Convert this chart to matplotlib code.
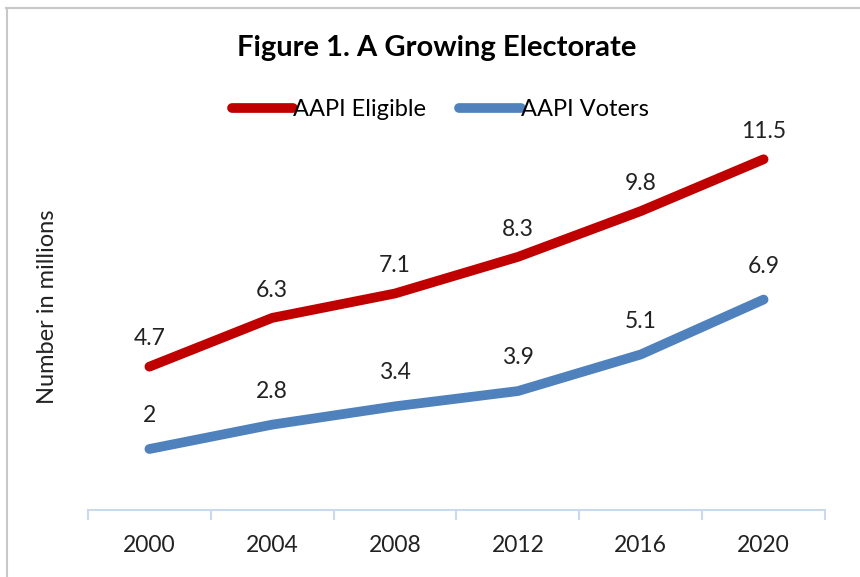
import matplotlib.pyplot as plt
from matplotlib.lines import Line2D

plt.rcParams['font.family'] = ['Lato', 'DejaVu Sans']

years = ['2000', '2004', '2008', '2012', '2016', '2020']
eligible = [4.7, 6.3, 7.1, 8.3, 9.8, 11.5]
voters = [2, 2.8, 3.4, 3.9, 5.1, 6.9]

red = '#C00000'
blue = '#4F81BD'
txt = '#222222'

fig = plt.figure(figsize=(8.6, 5.77), dpi=100)
ax = fig.add_axes([0.1023, 0.1161, 0.857, 0.74])

x = list(range(len(years)))
ax.plot(x, eligible, color=red, lw=7, solid_capstyle='round', solid_joinstyle='round', label='AAPI Eligible')
ax.plot(x, voters, color=blue, lw=7, solid_capstyle='round', solid_joinstyle='round', label='AAPI Voters')

for xi, v in zip(x, eligible):
    ax.annotate(f'{v:g}', (xi, v), xytext=(0, 20), textcoords='offset points',
                ha='center', va='center', fontsize=16.5, color=txt)
for xi, v in zip(x, voters):
    ax.annotate(f'{v:g}', (xi, v), xytext=(0, 24), textcoords='offset points',
                ha='center', va='center', fontsize=16.5, color=txt)

ax.set_xlim(-0.5, 5.5)
ax.set_ylim(0, 14)
ax.set_yticks([])
# category boundaries as tick marks, year labels in between
ax.set_xticks([i - 0.5 for i in range(len(years) + 1)])
ax.set_xticklabels([])
ax.set_xticks(x, minor=True)
ax.set_xticklabels(years, minor=True, fontsize=16.5, color=txt)
ax.tick_params(axis='x', which='major', length=7, color='#C9D9EE', width=1.5, direction='out')
ax.tick_params(axis='x', which='minor', length=0, pad=18)
for s in ['top', 'right', 'left']:
    ax.spines[s].set_visible(False)
ax.spines['bottom'].set_color('#C9D9EE')
ax.spines['bottom'].set_linewidth(1.5)

ax.set_ylabel('Number in millions', fontsize=17, color=txt)
ax.yaxis.set_label_coords(-0.041, 0.475)

fig.text(0.508, 0.917, 'Figure 1. A Growing Electorate', ha='center', va='center',
         fontsize=21, fontweight='bold', color='black')

leg = fig.legend(loc='center', bbox_to_anchor=(0.512, 0.81), ncol=2, frameon=False,
                 fontsize=17, handlelength=2.6, handletextpad=0.0, columnspacing=1.4)
for line in leg.get_lines():
    line.set_solid_capstyle('round')

# chart border: only top and left edges are visible in the crop
fig.add_artist(Line2D([0.007, 1.0], [0.987, 0.987], transform=fig.transFigure,
                      color='#C8C8C8', lw=1.5))
fig.add_artist(Line2D([0.008, 0.008], [0.0, 0.987], transform=fig.transFigure,
                      color='#C8C8C8', lw=1.5))

fig.savefig('out.png', dpi=100)
